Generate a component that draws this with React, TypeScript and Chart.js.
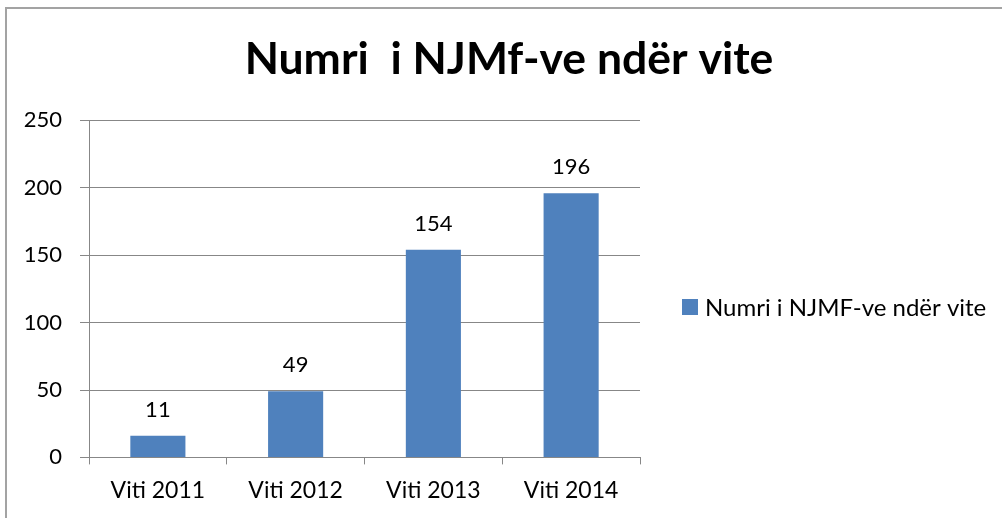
import React, { useEffect, useRef } from "react";
import { Chart, registerables } from "chart.js";

Chart.register(...registerables);

const categories = ["Viti 2011", "Viti 2012", "Viti 2013", "Viti 2014"];
const barValues = [16, 49, 154, 196];
const valueLabels = ["11", "49", "154", "196"];
const seriesName = "Numri i NJMF-ve ndër vite";
const chartTitle = "Numri  i NJMf-ve ndër vite";
const yTicks = [0, 50, 100, 150, 200, 250];

const FONT = "Lato, 'Open Sans', sans-serif";
const GRID = "#878787";
const BAR = "#4F81BD";

const valueLabelPlugin = {
  id: "valueLabels",
  afterDatasetsDraw(chart: any) {
    const ctx = chart.ctx;
    const meta = chart.getDatasetMeta(0);
    ctx.save();
    ctx.font = `22px ${FONT}`;
    ctx.fillStyle = "#000";
    ctx.textAlign = "center";
    ctx.textBaseline = "bottom";
    meta.data.forEach((el: any, i: number) => {
      ctx.fillText(valueLabels[i], el.x, el.y - 15);
    });
    ctx.restore();
  },
};

const sideLegendPlugin = {
  id: "sideLegend",
  afterDraw(chart: any) {
    const ctx = chart.ctx;
    const area = chart.chartArea;
    ctx.save();
    chart.data.datasets.forEach((ds: any, i: number) => {
      const x = area.right + 42;
      const cy = 307 + i * 30;
      ctx.fillStyle = ds.backgroundColor;
      ctx.fillRect(x, cy - 8, 16, 16);
      ctx.font = `24px ${FONT}`;
      ctx.fillStyle = "#000";
      ctx.textAlign = "left";
      ctx.textBaseline = "middle";
      ctx.fillText(ds.label, x + 23, cy + 1);
    });
    ctx.restore();
  },
};

export default function App() {
  const ref = useRef<HTMLCanvasElement | null>(null);
  useEffect(() => {
    if (!ref.current) return;
    const chart = new Chart(ref.current, {
      type: "bar",
      data: {
        labels: categories,
        datasets: [
          {
            label: seriesName,
            data: barValues,
            backgroundColor: BAR,
            borderWidth: 0,
            barPercentage: 0.4,
            categoryPercentage: 1,
          },
        ],
      },
      options: {
        responsive: false,
        animation: false,
        layout: { padding: { left: 20, right: 4, top: 0, bottom: 2 } },
        plugins: {
          title: {
            display: true,
            text: chartTitle,
            color: "#000",
            font: { family: FONT, size: 44.5, weight: "bold", lineHeight: 1.2 },
            padding: { top: 33, bottom: 34 },
          },
          legend: { display: false },
          tooltip: { enabled: false },
        },
        scales: {
          x: {
            grid: {
              display: true,
              drawOnChartArea: false,
              drawTicks: true,
              tickLength: 7,
              color: GRID,
              offset: true,
            },
            border: { display: true, color: GRID, width: 1 },
            ticks: { color: "#000", font: { family: FONT, size: 23, lineHeight: 1.2 }, padding: 12 },
          },
          y: {
            min: 0,
            max: 250,
            afterBuildTicks(scale: any) {
              scale.ticks = yTicks.map((v) => ({ value: v }));
            },
            afterFit(scale: any) {
              scale.width = 69;
            },
            grid: { color: GRID, tickLength: 9, drawTicks: true },
            border: { display: true, color: GRID, width: 1 },
            ticks: { color: "#000", font: { family: FONT, size: 22 }, padding: 18 },
          },
          legendSpace: {
            type: "linear",
            position: "right",
            display: true,
            min: 0,
            max: 250,
            afterFit(scale: any) {
              scale.width = 358;
            },
            grid: { display: false, drawOnChartArea: false, drawTicks: false },
            border: { display: false },
            ticks: { display: false },
          },
        },
      },
      plugins: [valueLabelPlugin, sideLegendPlugin],
    });
    return () => chart.destroy();
  }, []);
  return (
    <div style={{ position: "fixed", left: 0, top: 0, width: 1002, height: 518, background: "#fff", overflow: "hidden" }}>
      <canvas ref={ref} width={1002} height={518} style={{ position: "absolute", left: 0, top: 0 }} />
      <div
        style={{
          position: "absolute",
          left: 5,
          top: 7,
          width: 1100,
          height: 600,
          borderLeft: "2px solid #a3a3a3",
          borderTop: "2px solid #a3a3a3",
          pointerEvents: "none",
        }}
      />
    </div>
  );
}
